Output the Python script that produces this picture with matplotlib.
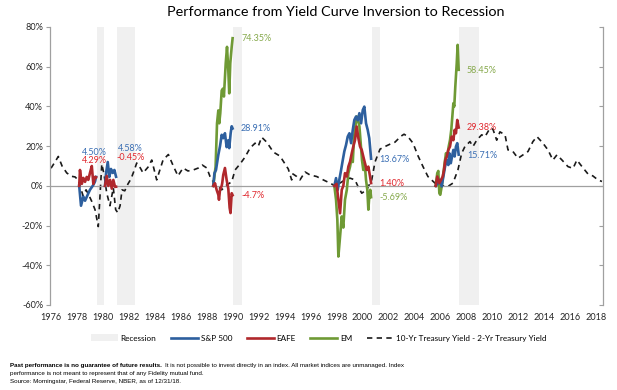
import matplotlib
matplotlib.use('Agg')
import matplotlib.pyplot as plt
from matplotlib.patches import Patch
from matplotlib.lines import Line2D

# ---------------- data ----------------
recessions = [(1980.0, 1980.55), (1981.5, 1982.9), (1990.5, 1991.2), (2001.17, 2001.83), (2007.92, 2009.45)]

spread_x = [1976.45, 1976.75, 1977.01, 1977.30, 1977.66, 1978.04, 1978.30, 1978.53, 1978.92, 1979.15,
            1979.35, 1979.60, 1979.84, 1980.09, 1980.36, 1980.53, 1980.74, 1980.99, 1981.25, 1981.43,
            1981.59, 1981.77, 1981.92, 1982.13, 1982.38, 1982.61, 1982.87, 1983.05, 1983.33, 1983.54,
            1983.92, 1984.21, 1984.59, 1985.08, 1985.49, 1985.87, 1986.23, 1986.62, 1987.00, 1987.41,
            1987.80, 1988.10, 1988.45, 1988.70, 1988.95, 1989.34, 1989.60, 1989.99, 1990.37, 1990.63,
            1991.01, 1991.40, 1991.78, 1992.17, 1992.42, 1992.68, 1993.07, 1993.58, 1994.09, 1994.48,
            1994.73, 1994.99, 1995.09, 1995.38, 1995.63, 1996.02, 1996.40, 1996.92, 1997.43, 1997.94,
            1998.33, 1998.71, 1999.10, 1999.48, 1999.87, 2000.10, 2000.39, 2000.77, 2001.16, 2001.41,
            2001.80, 2002.18, 2002.57, 2002.95, 2003.41, 2003.65, 2003.95, 2004.34, 2004.72, 2005.11,
            2005.49, 2006.03, 2006.26, 2006.65, 2007.03, 2007.42, 2007.80, 2008.09, 2008.34, 2008.73,
            2008.96, 2009.25, 2009.63, 2009.89, 2010.27, 2010.50, 2010.79, 2011.04, 2011.43, 2011.66,
            2012.04, 2012.43, 2012.81, 2013.20, 2013.58, 2013.89, 2014.35, 2014.74, 2015.12, 2015.43,
            2015.82, 2016.28, 2016.67, 2016.97, 2017.36, 2017.82, 2018.20, 2018.59, 2018.90]
spread_y = [0.89, 1.2, 1.48, 1.0, 0.65, 0.48, 0.45, 0.3, -0.5, -0.2,
            -0.45, -0.8, -1.2, -2.05, 1.1, 0.6, -0.36, -1.0, -0.1, -1.2,
            -1.35, -1.0, -0.2, -0.25, 0.1, 0.35, 0.8, 1.15, 0.9, 0.65,
            0.94, 1.3, 0.3, 1.3, 1.58, 1.0, 0.5, 0.9, 0.75, 0.8,
            0.9, 1.05, 0.9, 0.47, 0.2, -0.05, -0.2, 0.05, 0.2, 0.8,
            1.1, 1.45, 1.9, 2.15, 2.0, 2.45, 2.2, 1.7, 1.5, 1.1,
            0.85, 0.3, 0.6, 0.47, 0.3, 0.7, 0.55, 0.47, 0.3, 0.14,
            0.0, 0.14, 0.3, 0.39, 0.3, -0.03, -0.37, -0.2, 0.3, 1.2,
            1.85, 1.98, 2.1, 2.2, 2.5, 2.6, 2.48, 2.15, 1.52, 0.97,
            0.47, 0.14, -0.03, 0.0, -0.03, 0.14, 0.8, 1.64, 1.98, 2.23,
            1.98, 2.3, 2.57, 2.48, 2.9, 2.85, 2.3, 2.72, 2.57, 1.81,
            1.73, 1.39, 1.56, 1.73, 2.23, 2.48, 2.15, 1.81, 1.3, 1.56,
            1.3, 0.97, 0.88, 1.3, 0.97, 0.6, 0.5, 0.3, 0.22]

# S&P 500 episodes
sp_x = [
    [1978.62, 1978.76, 1978.94, 1979.07, 1979.28, 1979.45, 1979.71, 1979.84, 1979.92],
    [1980.61, 1980.69, 1980.82, 1980.94, 1981.07, 1981.20, 1981.33, 1981.46],
    [1988.95, 1989.04, 1989.16, 1989.34, 1989.47, 1989.60, 1989.72, 1989.85, 1989.98, 1990.11,
     1990.18, 1990.29, 1990.37, 1990.44],
    [1998.28, 1998.41, 1998.54, 1998.66, 1998.80, 1998.93, 1999.05, 1999.18, 1999.31, 1999.44,
     1999.57, 1999.70, 1999.82, 1999.95, 2000.08, 2000.21, 2000.34, 2000.47, 2000.59, 2000.72,
     2000.85, 2000.97, 2001.11],
    [2006.09, 2006.29, 2006.42, 2006.55, 2006.68, 2006.81, 2006.94, 2007.06, 2007.14, 2007.25,
     2007.35, 2007.45, 2007.55, 2007.65, 2007.75, 2007.86],
]
sp_y = [
    [0, -10, -5.4, -7.5, -4.4, -2, 0.5, 2.2, 4.50],
    [0, 6.5, 12, 4.5, 8.5, 6.5, 8, 4.58],
    [0, 6.4, 8, 15.6, 20, 25.7, 24, 26.5, 19.5, 23, 19, 26.5, 30, 28.91],
    [0, 3.9, -2, 3, 8, 13, 17.4, 20.6, 24.8, 26.5, 21.5, 28.2, 33.2, 34.9, 33, 36.6, 31.5, 38.2,
     39.9, 31.5, 28.2, 24, 13.67],
    [0, 1.4, 3, -0.3, 4.7, 9.7, 13, 10.5, 16.4, 11.4, 14.8, 18.1, 14.8, 19.8, 21.5, 15.71],
]

# EAFE episodes
eafe_x = [
    [1978.62, 1978.68, 1978.82, 1978.94, 1979.07, 1979.20, 1979.32, 1979.45, 1979.59, 1979.71,
     1979.84, 1979.92],
    [1980.61, 1980.74, 1980.86, 1981.00, 1981.13, 1981.25, 1981.38, 1981.46],
    [1988.95, 1989.08, 1989.21, 1989.34, 1989.39, 1989.47, 1989.60, 1989.64, 1989.72, 1989.85,
     1989.98, 1990.11, 1990.21, 1990.28, 1990.37, 1990.44],
    [1998.28, 1998.45, 1998.59, 1998.72, 1998.85, 1998.97, 1999.10, 1999.24, 1999.36, 1999.49,
     1999.62, 1999.74, 1999.87, 2000.00, 2000.13, 2000.26, 2000.39, 2000.51, 2000.64, 2000.77,
     2000.90, 2001.03, 2001.11],
    [2006.09, 2006.21, 2006.37, 2006.50, 2006.63, 2006.73, 2006.83, 2006.94, 2007.06, 2007.19,
     2007.32, 2007.45, 2007.55, 2007.65, 2007.75, 2007.86],
]
eafe_y = [
    [0, 8, 1, 4, 2, 4.5, 3, 6.5, 10, 1, 4.5, 4.29],
    [0, 5, 0, 3, -1.4, 3, -0.5, -0.45],
    [0, 1.3, -2, -4.5, -7, -2, 0, 1.4, 5.5, 9, 3, -1.5, -11, -13.7, -3.7, -4.7],
    [0, 1, -7, -13.8, -2, 0, 6.4, 4.7, 9.7, 12.2, 16.4, 19.8, 23, 29.9, 24, 19.8, 18.1, 14.8,
     11.4, 8, 9.7, 4.7, 1.40],
    [0, 4.7, 1.4, 3, 4.7, 8, 13, 14.8, 18.1, 19.8, 24.8, 23, 28.2, 26.5, 33.2, 29.38],
]

# EM episodes
em_x = [
    [1988.95, 1989.13, 1989.24, 1989.34, 1989.41, 1989.49, 1989.60, 1989.70, 1989.77, 1989.91,
     1990.01, 1990.11, 1990.18, 1990.26, 1990.37, 1990.44],
    [1998.28, 1998.41, 1998.51, 1998.59, 1998.72, 1998.85, 1998.97, 1999.10, 1999.24, 1999.36,
     1999.49, 1999.62, 1999.70, 1999.80, 1999.90, 2000.00, 2000.11, 2000.21, 2000.31, 2000.41,
     2000.51, 2000.62, 2000.72, 2000.82, 2000.90, 2000.97, 2001.05, 2001.11],
    [2006.09, 2006.21, 2006.29, 2006.37, 2006.44, 2006.55, 2006.68, 2006.81, 2006.88, 2006.98,
     2007.09, 2007.19, 2007.29, 2007.37, 2007.45, 2007.52, 2007.60, 2007.71, 2007.78, 2007.86],
]
em_y = [
    [0, 9.7, 31.5, 38, 31.5, 36.6, 48, 49, 45, 61.7, 70, 58, 46.6, 61.7, 70, 74.35],
    [0, -7, -17, -35.6, -25.5, -15.4, -21, -7, -2, 6.4, 9.7, 14.8, 12, 24.8, 29.9, 35, 33, 30,
     21.5, 13, 8, 11.4, 3, -2, -12, -5.4, -2, -5.69],
    [0, 6.4, 7.5, -3.7, -4.5, -0.3, 6.4, 13, 16.4, 14.8, 19.8, 23, 28.2, 34.9, 41.6, 40, 50,
     61.7, 71, 58.45],
]

# end labels: (text, series, x, y)
labels = [
    ("4.50%", "sp", 1978.84, 16.8), ("4.29%", "eafe", 1978.84, 12.9),
    ("4.58%", "sp", 1981.61, 18.8), ("-0.45%", "eafe", 1981.50, 14.4),
    ("74.35%", "em", 1991.09, 74.0), ("28.91%", "sp", 1991.09, 28.7), ("-4.7%", "eafe", 1991.09, -5.0),
    ("13.67%", "sp", 2001.72, 13.1), ("1.40%", "eafe", 2001.72, 1.0), ("-5.69%", "em", 2001.72, -6.0),
    ("58.45%", "em", 2008.50, 58.0), ("29.38%", "eafe", 2008.50, 29.2), ("15.71%", "sp", 2008.50, 15.1),
]

year_ticks = list(range(1976, 2019, 2))
pct_ticks = [-60, -40, -20, 0, 20, 40, 60, 80]

# ---------------- style ----------------
C_SP = '#2d5f9e'
C_EAFE = '#b0282c'
C_EM = '#6f9a35'
L_SP = '#3b6fb4'
L_EAFE = '#e0282e'
L_EM = '#86a94c'
label_colors = {"sp": L_SP, "eafe": L_EAFE, "em": L_EM}
FONT = 'Lato'
plt.rcParams['font.family'] = [FONT, 'DejaVu Sans']

fig = plt.figure(figsize=(6.17, 3.90), dpi=100)
fig.patch.set_facecolor('white')
ax = fig.add_axes([50/617, 1-305/390, 553/617, 278/390])
ax2 = ax.twinx()
ax.set_zorder(ax2.get_zorder() + 1)
ax.patch.set_visible(False)

x0, x1 = 1976.37, 2018.98
for s, e in recessions:
    ax2.axvspan(s, e, color='#f0f0f0', lw=0, zorder=0)
ax2.plot(spread_x, spread_y, color='#1a1a1a', lw=1.2, ls=(0, (3.2, 2.6)), zorder=2)
ax2.set_ylim(-6, 8)
ax2.set_yticks(range(-6, 9, 2))
ax2.set_yticklabels([])
ax2.tick_params(axis='y', direction='in', length=3, color='#a0a0a0', width=0.8)
for sp in ['top', 'bottom', 'left']:
    ax2.spines[sp].set_visible(False)
ax2.spines['right'].set_color('#a0a0a0')
ax2.spines['right'].set_linewidth(0.9)

ax.axhline(0, color='#a0a0a0', lw=0.9, zorder=1)
for xs, ys in zip(sp_x, sp_y):
    ax.plot(xs, ys, color=C_SP, lw=1.9, zorder=3, solid_joinstyle='round')
for xs, ys in zip(eafe_x, eafe_y):
    ax.plot(xs, ys, color=C_EAFE, lw=1.9, zorder=4, solid_joinstyle='round')
for xs, ys in zip(em_x, em_y):
    ax.plot(xs, ys, color=C_EM, lw=1.9, zorder=2.5, solid_joinstyle='round')

for txt, ser, lx, ly in labels:
    ax.text(lx, ly, txt, color=label_colors[ser], fontsize=6.5, ha='left', va='center', zorder=6)

ax.set_xlim(x0, x1)
ax2.set_xlim(x0, x1)
ax.set_ylim(-60, 80)
ax.set_yticks(pct_ticks)
ax.set_yticklabels([f"{v}%" for v in pct_ticks])
ax.set_xticks([y + 0.45 for y in year_ticks])
ax.set_xticklabels([str(y) for y in year_ticks])
ax.tick_params(axis='x', length=0, pad=6, labelsize=6.6, labelcolor='#262626')
ax.tick_params(axis='y', direction='out', length=3, color='#a0a0a0', width=0.8,
               labelsize=6.6, labelcolor='#262626', pad=2)
for sp in ['top', 'bottom', 'right']:
    ax.spines[sp].set_visible(False)
ax.spines['left'].set_color('#a0a0a0')
ax.spines['left'].set_linewidth(0.9)

fig.text(336/617, 1-12/390, "Performance from Yield Curve Inversion to Recession",
         ha='center', va='center', fontsize=10.4, color='#000000')

handles = [
    Patch(facecolor='#f0f0f0', edgecolor='none'),
    Line2D([], [], color=C_SP, lw=1.9),
    Line2D([], [], color=C_EAFE, lw=1.9),
    Line2D([], [], color=C_EM, lw=1.9),
    Line2D([], [], color='#1a1a1a', lw=1.2, ls=(0, (3.2, 2.6))),
]
names = ["Recession", "S&P 500", "EAFE", "EM", "10-Yr Treasury Yield - 2-Yr Treasury Yield"]
fig.legend(handles, names, loc='center', bbox_to_anchor=(319/617, 1-338/390), ncol=5,
           frameon=False, fontsize=5.9, handlelength=3.3, handletextpad=0.3, columnspacing=1.8,
           handleheight=0.9)

# footnote
foot_font = dict(family=['Liberation Sans', 'DejaVu Sans'], fontsize=4.5, color='#000000')
fig.canvas.draw()
r = fig.canvas.get_renderer()
t1 = fig.text(10/617, 1-366/390, "Past performance is no guarantee of future results.",
              fontweight='bold', va='center', ha='left', **foot_font)
bb = t1.get_window_extent(renderer=r)
x_after = (bb.x1 + 3) / fig.bbox.width
fig.text(x_after, 1-366/390,
         "It is not possible to invest directly in an index. All market indices are unmanaged. Index",
         va='center', ha='left', **foot_font)
fig.text(10/617, 1-374/390, "performance is not meant to represent that of any Fidelity mutual fund.",
         va='center', ha='left', **foot_font)
fig.text(10/617, 1-382/390, "Source: Morningstar, Federal Reserve, NBER, as of 12/31/18.",
         va='center', ha='left', **foot_font)

fig.savefig('out.png', dpi=100, facecolor='white')
